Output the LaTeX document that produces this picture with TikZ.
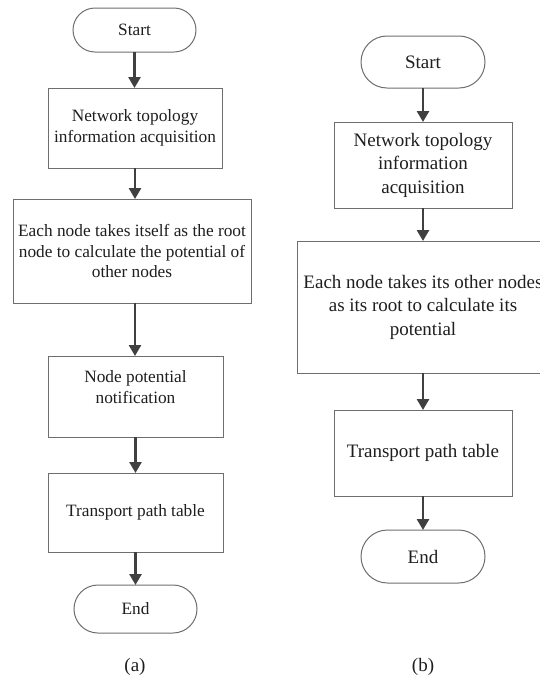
\documentclass[tikz,border=0pt]{standalone}
\usepackage{fontspec}
\setmainfont{Liberation Serif}
\usetikzlibrary{arrows.meta,shapes.misc}

\definecolor{framegray}{RGB}{110,110,110}
\definecolor{arrowgray}{RGB}{64,64,64}
\definecolor{inkgray}{RGB}{30,30,30}

\tikzset{
  boxbase/.style={draw=framegray, line width=1pt, inner sep=0pt, outer sep=0pt,
                  align=center, text=inkgray},
  fontA/.style={font=\fontsize{17.3}{20.5}\selectfont},
  fontB/.style={font=\fontsize{19}{23.5}\selectfont},
  procbox/.style={boxbase, rectangle},
  termbox/.style={boxbase, rounded rectangle},
  flowarrow/.style={draw=arrowgray, line width=2.6pt,
                    -{Triangle[width=12pt,length=11pt]}},
  caption/.style={font=\fontsize{19}{22}\selectfont, text=inkgray}
}

\begin{document}
\begin{tikzpicture}[x=1pt,y=-1pt]
\useasboundingbox (0,0) rectangle (539,678);

% ---------- flow (a) ----------
\node[termbox, fontA, minimum width=123pt, minimum height=44pt] (sA) at (134.5,30) {Start};
\node[procbox, fontA, minimum width=174pt, minimum height=80pt] (a2) at (135,128)
  {Network topology\\information acquisition};
\node[procbox, fontA, minimum width=238pt, minimum height=104pt] (a3) at (132,251)
  {Each node takes itself as the root\\node to calculate the potential of\\other nodes};
\node[procbox, minimum width=175pt, minimum height=81pt] (a4) at (135.5,396.5) {};
\node[fontA, align=center, text=inkgray] (a4t) at (135.5,387) {Node potential\\notification};
\node[procbox, fontA, minimum width=175pt, minimum height=79pt] (a5) at (135.5,512.5)
  {Transport path table};
\node[termbox, fontA, minimum width=123pt, minimum height=48pt] (eA) at (135.5,609) {End};

\draw[flowarrow] (sA.south) -- (sA.south |- a2.north);
\draw[flowarrow] (a2.south) -- (a2.south |- a3.north);
\draw[flowarrow] (a2.south |- a3.south) -- (a2.south |- a4.north);
\draw[flowarrow] (a4.south) -- (a5.north);
\draw[flowarrow] (a5.south) -- (eA.north);

\node[caption] (capA) at (135,667) {(a)};

% ---------- flow (b) ----------
\node[termbox, fontB, minimum width=124pt, minimum height=52pt] (sB) at (423,62) {Start};
\node[procbox, fontB, minimum width=178pt, minimum height=86pt] (b2) at (423,165)
  {Network topology\\information\\acquisition};
\node[procbox, fontB, minimum width=252pt, minimum height=132pt] (b3) at (423,307)
  {Each node takes its other nodes\\as its root to calculate its\\potential};
\node[procbox, fontB, minimum width=178pt, minimum height=86pt] (b4) at (423,453)
  {Transport path table};
\node[termbox, fontB, minimum width=124pt, minimum height=53pt] (eB) at (423,556.5) {End};

\draw[flowarrow] (sB.south) -- (b2.north);
\draw[flowarrow] (b2.south) -- (b3.north);
\draw[flowarrow] (b3.south) -- (b4.north);
\draw[flowarrow] (b4.south) -- (eB.north);

\node[caption] (capB) at (423,667) {(b)};
\end{tikzpicture}
\end{document}
